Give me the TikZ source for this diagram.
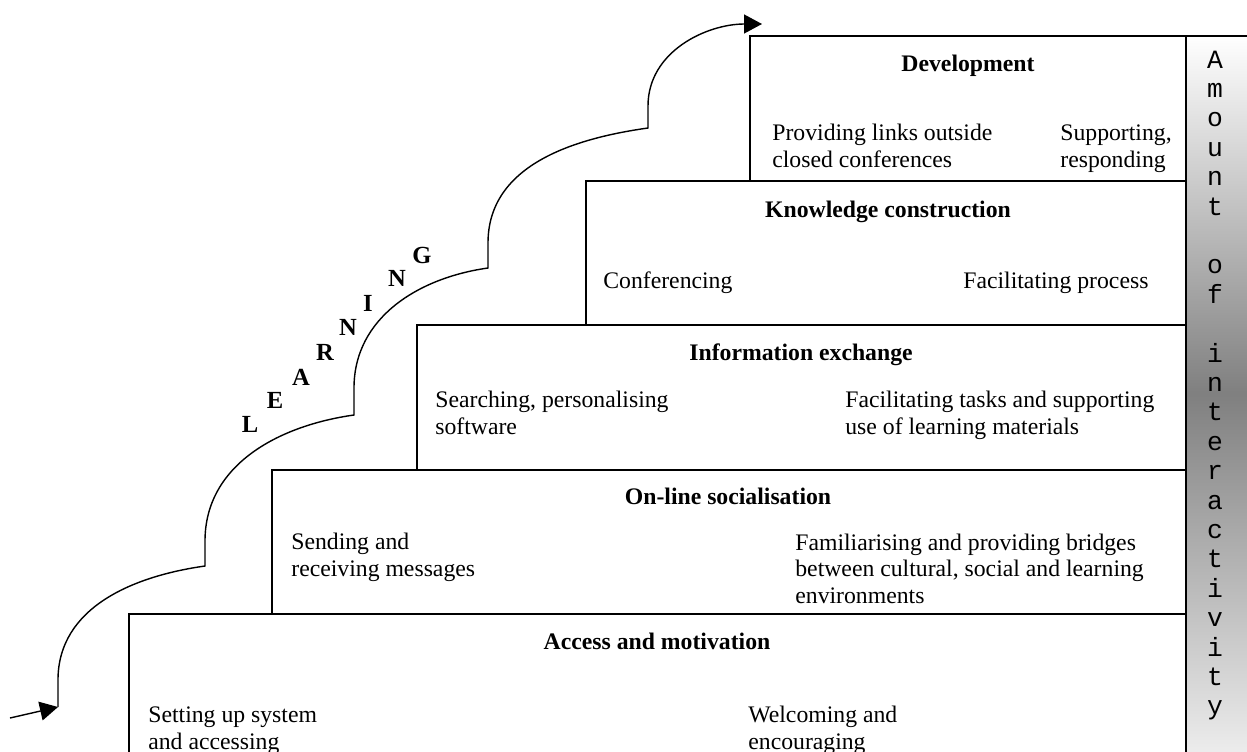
\documentclass[tikz,border=0pt]{standalone}
\usepackage{fontspec}
\setmainfont{Liberation Serif}
\newfontfamily\axisfont{Liberation Mono}
\usetikzlibrary{arrows.meta}

\tikzstyle{stage}=[draw=black, line width=1.1pt]
\tikzstyle{title}=[font=\fontsize{13.5}{15}\selectfont\bfseries, anchor=base, inner sep=0pt]
% base of a task node sits on its last line
\tikzstyle{task}=[font=\fontsize{13.5}{15}\selectfont, anchor=base west, align=left, inner sep=0pt]
\tikzstyle{letter}=[font=\fontsize{14}{14}\selectfont\bfseries, inner sep=0pt]
\tikzstyle{axis letter}=[font=\axisfont\fontsize{15}{15}\selectfont, anchor=base, inner sep=0pt]
\tikzstyle{climb}=[line width=0.8pt]
\tikzstyle{climb tip}=[-{Triangle[length=0.36cm, width=0.38cm]}]

\begin{document}
\begin{tikzpicture}[x=0.02cm, y=0.02cm]
				\clip (0,0) rectangle (1247,-751);

				% Amount of interactivity bar
				\shade[top color=white, bottom color=gray!15, middle color=gray] (1186,-36) rectangle (1247,-751);
				\draw[stage] (1186,-36) -- (1186,-751);
				\draw[stage] (750,-36) -- (1247,-36);

				% Stages of the model, bottom one running off the page
				\draw[stage] (750,-36) rectangle (1186,-181);
				\draw[stage] (586,-181) rectangle (1186,-325);
				\draw[stage] (417,-325) rectangle (1186,-470);
				\draw[stage] (272,-470) rectangle (1186,-614);
				\draw[stage] (129,-614) rectangle (1186,-770);

				\node[title] (devtitle) at (968,-71) {Development};
				\node[task] (devleft) at (772,-167) {Providing links outside\\closed conferences};
				\node[task] (devright) at (1060,-167) {Supporting,\\responding};

				\node[title] (knowtitle) at (888,-217) {Knowledge construction};
				\node[task] (knowleft) at (603,-288) {Conferencing};
				\node[task] (knowright) at (963,-288) {Facilitating process};

				\node[title] (infotitle) at (801,-360) {Information exchange};
				\node[task] (infoleft) at (435,-434) {Searching, personalising\\software};
				\node[task] (inforight) at (845,-434) {Facilitating tasks and supporting\\use of learning materials};

				\node[title] (soctitle) at (728,-504) {On-line socialisation};
				\node[task] (socleft) at (291,-576) {Sending and\\receiving messages};
				\node[task] (socright) at (795,-603) {Familiarising and providing bridges\\between cultural, social and learning\\environments};

				\node[title] (acctitle) at (657,-649) {Access and motivation};
				\node[task] (accleft) at (148,-749) {Setting up system\\and accessing};
				\node[task] (accright) at (748,-749) {Welcoming and\\encouraging};

				\foreach \ch [count=\i] in {A,m,o,u,n,t,{},o,f,{},i,n,t,e,r,a,c,t,i,v,i,t,y}{
					\node[axis letter] (amount\i) at (1215,{-68-(\i-1)*29.4}) {\ch};
				}

				% Learning curve climbing the stages
				\coordinate (start) at (10,-718);
				\coordinate (step1) at (58,-707);
				\coordinate (step2) at (205,-566);
				\coordinate (step3) at (354,-415);
				\coordinate (step4) at (488,-268);
				\coordinate (step5) at (648,-128);
				\coordinate (finish) at (762,-24);

				\draw[climb, climb tip] (start) -- (step1);
				\draw[climb, climb tip] (step1) -- ++(0,27) to[out=90, in=188] (step2)
					-- ++(0,25) to[out=90, in=188] (step3)
					-- ++(0,27) to[out=90, in=188] (step4)
					-- ++(0,25) to[out=90, in=188] (step5)
					-- ++(0,22) to[out=90, in=180] (finish);

				\foreach \ch/\x/\y [count=\i] in {L/250/424, E/275/400, A/301/377, R/325/352, N/348/327, I/368/303, N/397/278, G/422/255}{
					\node[letter] (learning\i) at (\x,-\y) {\ch};
				}
\end{tikzpicture}
\end{document}
